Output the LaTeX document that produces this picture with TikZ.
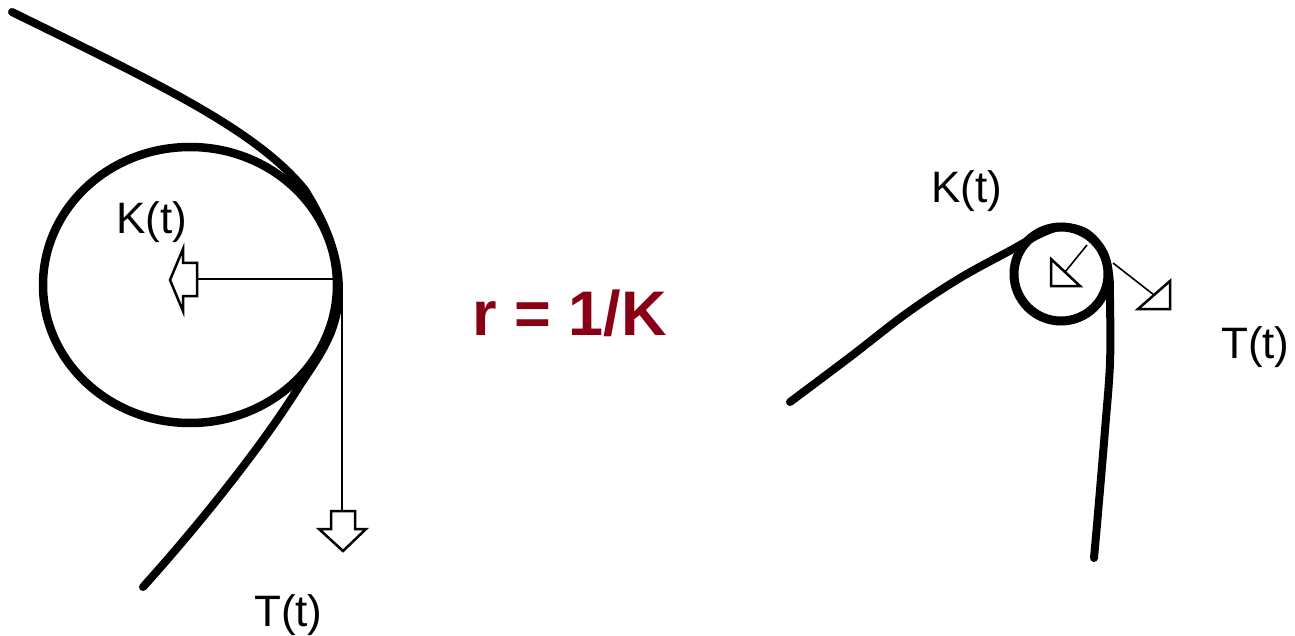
\documentclass[tikz,border=0pt]{standalone}
\usepackage{fontspec}
\setmainfont{Liberation Sans}
\definecolor{rcol}{RGB}{136,0,21}
\tikzset{
  thick curve/.style={line width=8pt, line cap=round, line join=round},
  thin arrow/.style={line width=2.5pt, line join=miter},
  dotted shaft/.style={line width=1.6pt},
  lbl/.style={inner sep=0pt, anchor=base west, font=\fontsize{44}{50}\selectfont},
}
\begin{document}
\begin{tikzpicture}[x=1pt, y=-1pt]
\useasboundingbox (0,0) rectangle (1295,636);
% ---------- left figure ----------
\draw[line width=8.5pt] (190,285) ellipse [x radius=147, y radius=138];
\draw[thick curve] (12,12) .. controls (150,80) and (255,128) .. (305,190)
  .. controls (325,222) and (339,255) .. (339,290)
  .. controls (339,330) and (320,355) .. (300,385)
  .. controls (260,450) and (190,535) .. (143,587);
% curvature vector
\coordinate (kl) at (197,279);
\coordinate (kr) at (337,279);
\draw[thin arrow] (kr) -- (kl);
\draw[thin arrow] (197,263) -- (183,263) -- (183,249) -- (170,280) -- (183,311) -- (183,296) -- (197,296) -- cycle;
% tangent vector
\coordinate (tt) at (342,285);
\coordinate (tb) at (342,511);
\draw[thin arrow] (tt) -- (tb);
\draw[thin arrow] (331,511) -- (355,511) -- (355,529) -- (366,529) -- (343,551) -- (319,529) -- (331,529) -- cycle;
\node[lbl] (K1) at (116,234) {K(t)};
\node[lbl] (T1) at (254,626) {T(t)};
% ---------- formula ----------
\node[inner sep=0pt, anchor=base west, text=rcol, font=\bfseries\fontsize{63}{72}\selectfont] (r) at (472,335) {r = 1/K};
% ---------- right figure ----------
\draw[line width=9pt] (1061,274) circle [radius=47];
\draw[thick curve] plot[smooth, tension=0.55] coordinates {(790,402) (850,357) (907,313) (960,278) (1013,249) (1040,234) (1061,227) (1085,232) (1102,250) (1109,274) (1110,300) (1110,363) (1105,430) (1098,513) (1094,558)};
% inward arrow
\coordinate (a1) at (1087,245);
\coordinate (a2) at (1065,272);
\draw[dotted shaft] (a1) -- (a2);
\draw[line width=2.5pt, line join=miter] (1051,259) -- (1051,286) -- (1080,286) -- cycle;
% tangent arrow
\coordinate (b1) at (1113,263);
\coordinate (b2) at (1154,295);
\draw[dotted shaft] (b1) -- (b2);
\draw[line width=2.5pt, line join=miter] (1138,309) -- (1170,309) -- (1170,281) -- cycle;
\node[lbl] (K2) at (931,203) {K(t)};
\node[lbl] (T2) at (1221,358) {T(t)};
\end{tikzpicture}
\end{document}
